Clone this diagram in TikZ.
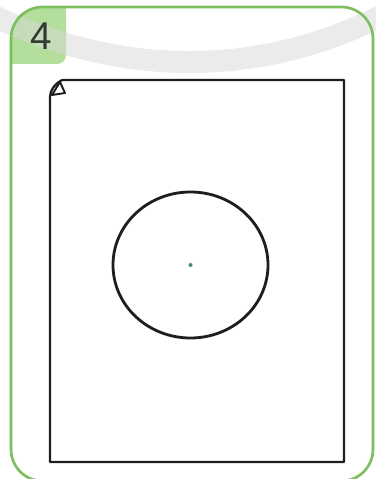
\documentclass[tikz,border=0pt]{standalone}
\usepackage{fontspec}
\setsansfont{Liberation Sans}
\usepackage{tikz}
\usetikzlibrary{positioning, calc}
\definecolor{cFrame}{HTML}{7CBF5B}
\definecolor{cTab}{HTML}{B4DE9C}
\definecolor{cArc}{HTML}{D9D9D9}
\definecolor{cInk}{HTML}{1E1E1E}
\definecolor{cDot}{HTML}{3C8C6C}
\definecolor{cNum}{HTML}{2F3A30}
\tikzset{
  frame/.style={draw=cFrame, line width=1.5pt, rounded corners=18pt},
  tab/.style={fill=cTab},
  band/.style={draw=cArc, line width=12.5pt, opacity=0.5},
  paper/.style={draw=cInk, line width=1.3pt, line join=round},
  ring/.style={draw=cInk, line width=1.6pt},
  number/.style={font=\sffamily\fontsize{22}{22}\selectfont, text=cNum, inner sep=0pt},
}

\begin{document}
\begin{tikzpicture}[x=0.02cm, y=-0.02cm]

  \useasboundingbox[fill=white] (0,0) rectangle (375,479);

  % numbered tab in the corner
  \begin{scope}
    \clip[rounded corners=18pt] (11,7) rectangle (373,481);
    \fill[tab, rounded corners=5pt] (0,0) rectangle (66,64);
  \end{scope}

  % light sweep behind the card
  \draw[band] (-10,14) .. controls (120,78) and (260,78) .. (385,14);

  \node[number] (num) at (41,36.5) {4};

  % card frame
  \draw[frame] (11,7) rectangle (373,481);

  % sheet of paper with folded corner
  \draw[paper] (62,80) -- (344,80) -- (344,462) -- (50,462) -- (50,97)
    .. controls (50,90) and (55,84) .. (62,80);
  \draw[paper, line width=1.1pt] (60,82) -- (52,95) -- (65,93) -- cycle;

  % circle and its centre
  \coordinate (centre) at (190.5,265);
  \draw[ring] (centre) ellipse [x radius=77.5, y radius=73];
  \fill[cDot] (centre) circle (2);

\end{tikzpicture}
\end{document}
